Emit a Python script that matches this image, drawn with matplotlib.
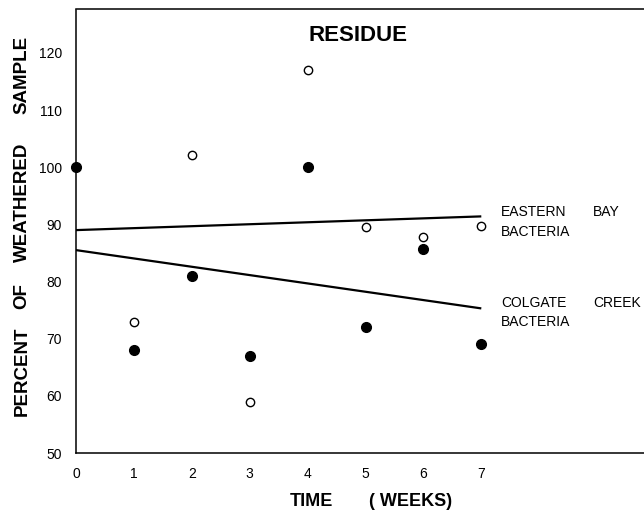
import matplotlib
matplotlib.use("Agg")
import matplotlib.pyplot as plt

# Data
weeks = [0, 1, 2, 3, 4, 5, 6, 7]
colgate_creek = [100, 68, 81, 67, 100, 72, 85.7, 69]          # filled circles
eastern_bay_x = [1, 2, 3, 4, 5, 6, 7]
eastern_bay = [73, 102.2, 59, 117, 89.6, 87.8, 89.8]          # open circles
fit_x = [0, 7]
eastern_bay_fit = [89.0, 91.4]
colgate_creek_fit = [85.5, 75.3]
yticks = [50, 60, 70, 80, 90, 100, 110, 120]
xticks = [0, 1, 2, 3, 4, 5, 6, 7]

plt.rcParams['font.family'] = ['Liberation Sans', 'DejaVu Sans']

W, H = 644, 511
fig = plt.figure(figsize=(W / 100, H / 100), dpi=100)
ax = fig.add_axes([76 / W, 1 - 453 / H, 1 - 76 / W, (453 - 9.5) / H])

ax.plot(fit_x, eastern_bay_fit, color='black', lw=1.6, solid_capstyle='butt')
ax.plot(fit_x, colgate_creek_fit, color='black', lw=1.6, solid_capstyle='butt')
ax.plot(weeks, colgate_creek, 'o', color='black', ms=7, clip_on=False, zorder=5)
ax.plot(eastern_bay_x, eastern_bay, 'o', mfc='white', mec='black', mew=1.0, ms=6, zorder=5)

ax.set_xlim(0, 9.81)
ax.set_ylim(50, 127.6)
ax.set_xticks(xticks)
ax.set_yticks(yticks)
ax.tick_params(length=0, labelsize=10)
ax.tick_params(axis='y', pad=10)
ax.tick_params(axis='x', pad=10)
ax.spines['right'].set_visible(False)
for s in ['left', 'bottom', 'top']:
    ax.spines[s].set_linewidth(1.1)

# Title
fig.text(358 / W, 1 - 35 / H, 'RESIDUE', ha='center', va='center',
         fontsize=16, fontweight='bold')

# Series labels
lab = dict(fontsize=10, ha='left', va='center')
fig.text(501 / W, 1 - 212 / H, 'EASTERN', **lab)
fig.text(593 / W, 1 - 212 / H, 'BAY', **lab)
fig.text(501 / W, 1 - 232 / H, 'BACTERIA', **lab)
fig.text(501 / W, 1 - 303 / H, 'COLGATE', **lab)
fig.text(593 / W, 1 - 303 / H, 'CREEK', **lab)
fig.text(501 / W, 1 - 322 / H, 'BACTERIA', **lab)

# Axis labels (widely spaced words)
yl = dict(fontsize=13.5, fontweight='bold', rotation=90, ha='center', va='center')
for word, yc in [('PERCENT', 371), ('OF', 296), ('WEATHERED', 202), ('SAMPLE', 75)]:
    fig.text(22 / W, 1 - yc / H, word, **yl)
xl = dict(fontsize=13, fontweight='bold', ha='center', va='center')
fig.text(311 / W, 1 - 502 / H, 'TIME', **xl)
fig.text(411 / W, 1 - 502 / H, '( WEEKS)', **xl)

fig.savefig('out.png', dpi=100)
